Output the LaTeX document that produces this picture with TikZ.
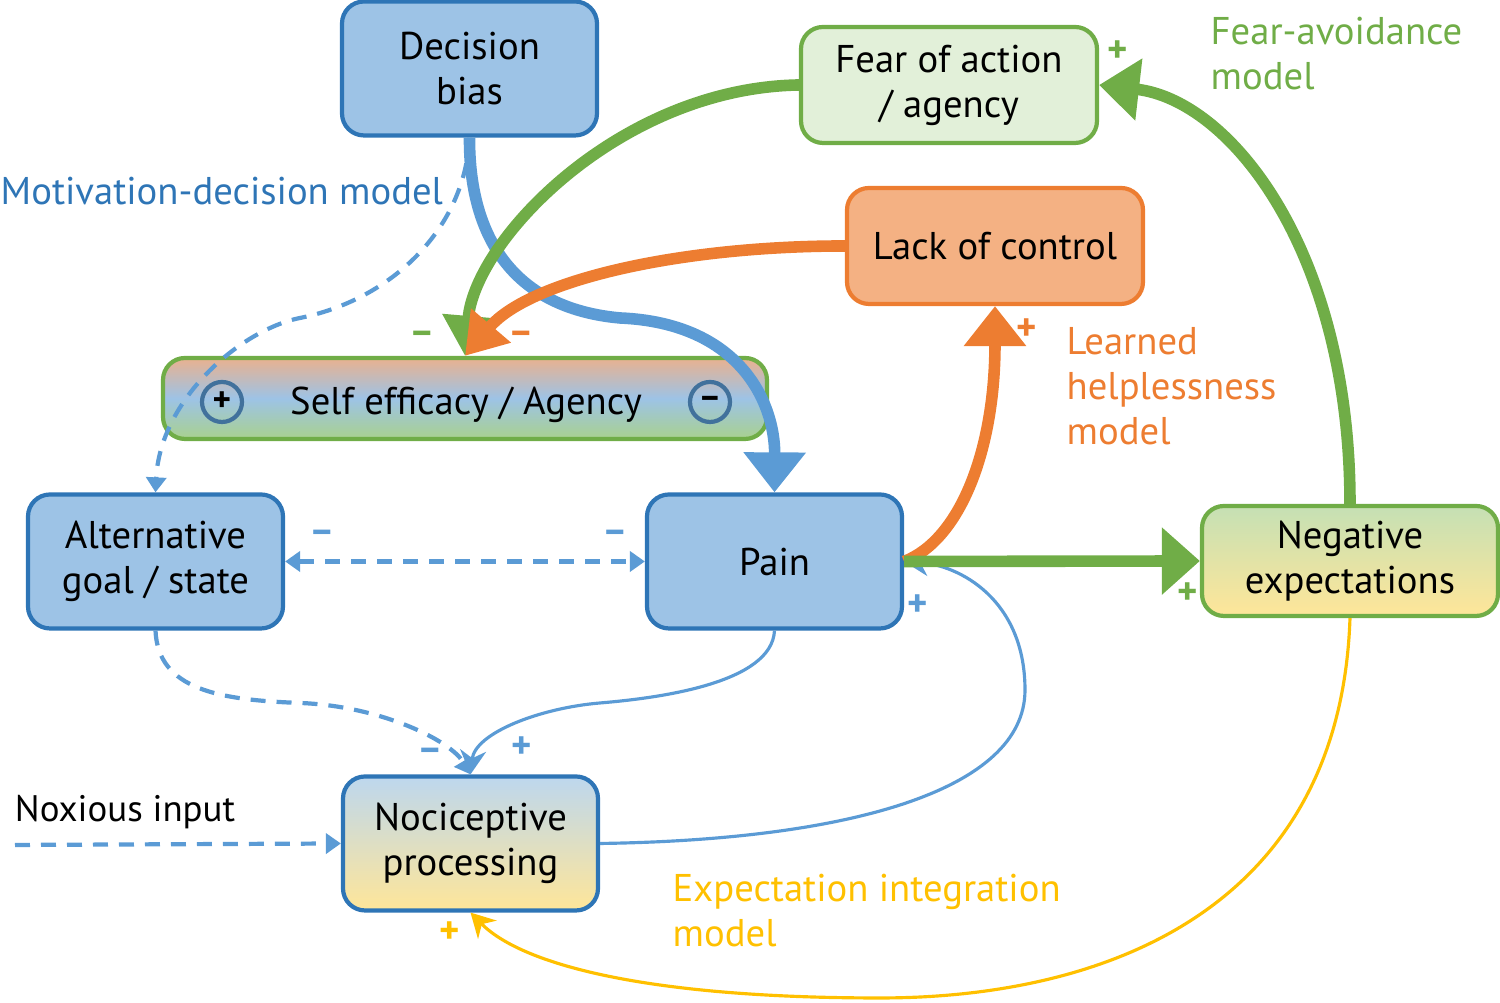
\documentclass[tikz,border=0pt]{standalone}
\usepackage{fontspec}
\setmainfont{PT Sans}
\usepackage{tikz}
\usetikzlibrary{arrows.meta}

\definecolor{paleblue}{HTML}{9DC3E6}
\definecolor{darkblue}{HTML}{2E75B6}
\definecolor{lineblue}{HTML}{5B9BD5}
\definecolor{ringblue}{HTML}{41719C}
\definecolor{lightblue}{HTML}{BDD7EE}
\definecolor{leafgreen}{HTML}{70AD47}
\definecolor{palegreen}{HTML}{E2F0D9}
\definecolor{softgreen}{HTML}{C5E0B4}
\definecolor{effgreen}{HTML}{A9D18E}
\definecolor{carrot}{HTML}{ED7D31}
\definecolor{peach}{HTML}{F4B183}
\definecolor{effpeach}{HTML}{E9B18F}
\definecolor{gold}{HTML}{FFC000}
\definecolor{paleyellow}{HTML}{FFE699}

\tikzset{
  box/.style={rectangle, rounded corners=0.22cm, line width=1.2pt, align=center,
    inner sep=0pt, font=\fontsize{11}{12.8}\selectfont},
  bluebox/.style={box, draw=darkblue, fill=paleblue, minimum width=2.55cm, minimum height=1.34cm},
  widebox/.style={box, minimum width=2.96cm, minimum height=1.16cm},
  sign/.style={font=\bfseries\fontsize{11}{12}\selectfont},
  label/.style={anchor=west, align=left, inner sep=0pt, font=\fontsize{11}{12.8}\selectfont},
  fat/.style={line width=3.3pt, -{Triangle[length=0.4cm,width=0.6cm]}},
  slim/.style={lineblue, line width=0.9pt, -{Stealth[length=0.24cm,width=0.26cm]}},
  dashline/.style={lineblue, line width=1.2pt, dash pattern=on 0.15cm off 0.11cm,
    -{Triangle[length=0.15cm,width=0.2cm]}}
}

\begin{document}
\begin{tikzpicture}
    \useasboundingbox (0,0) rectangle (15,10.03);
    % boxes
    \node[bluebox] (bias) at (4.695,9.345) {Decision\\bias};
    \node[widebox, draw=leafgreen, fill=palegreen] (fear) at (9.49,9.18) {Fear of action\\/ agency};
    \node[widebox, draw=carrot, fill=peach] (control) at (9.95,7.57) {Lack of control};
    \node[box, draw=leafgreen, minimum width=6.04cm, minimum height=0.81cm,
        top color=effpeach, bottom color=effgreen, middle color=paleblue] (eff) at (4.65,6.045) {};
    \node[font=\fontsize{11}{12.8}\selectfont] (efftext) at (4.66,5.98) {Self efficacy / Agency};
    \node[circle, draw=ringblue, line width=1.2pt, minimum size=0.4cm, inner sep=0pt] (plus) at (2.22,6.01) {\textbf{+}};
    \node[circle, draw=ringblue, line width=1.2pt, minimum size=0.4cm, inner sep=0pt] (minus) at (7.10,6.01) {\textbf{--}};
    \node[bluebox] (alt) at (1.555,4.415) {Alternative\\goal / state};
    \node[bluebox] (pain) at (7.745,4.415) {Pain};
    \node[widebox, draw=leafgreen, minimum height=1.10cm, top color=softgreen, bottom color=paleyellow] (negexp) at (13.5,4.42) {Negative\\expectations};
    \node[bluebox, top color=lightblue, bottom color=paleyellow] (noci) at (4.705,1.595) {Nociceptive\\processing};
    \coordinate (nox) at (0.15,1.58);

    % model labels
    \node[label, darkblue] (mdm) at (0,8.12) {Motivation-decision model};
    \node[label, leafgreen] (fam) at (12.1,9.49) {Fear-avoidance\\model};
    \node[label, carrot] (lhm) at (10.66,6.165) {Learned\\helplessness\\model};
    \node[label, gold] (eim) at (6.72,0.92) {Expectation integration\\model};
    \node[font=\fontsize{10.5}{12.8}\selectfont] (noxlabel) at (1.25,1.91) {Noxious input};

    % thin and dashed links
    \draw[dashline] (bias.south) .. controls (4.65,7.73) and (3.9,7.03) .. (3.0,6.85)
        .. controls (2.4,6.73) and (1.6,6.03) .. (alt.north);
    \draw[dashline, {Triangle[length=0.15cm,width=0.2cm]}-{Triangle[length=0.15cm,width=0.2cm]}] (alt.east) -- (pain.west);
    \draw[dashline] (alt.south) .. controls (1.58,3.13) and (2.2,3.03) .. (3.0,3.0)
        .. controls (3.8,2.97) and (4.5,2.63) .. (noci.north);
    \draw[dashline] (nox) -- (noci.west);
    \draw[slim] (pain.south) .. controls (7.72,3.2) and (6.6,3.05) .. (6.0,3.0)
        .. controls (5.4,2.95) and (4.75,2.7) .. (noci.north);
    \draw[slim] (noci.east) .. controls (8.5,1.63) and (10.25,2.13) .. (10.25,3.13)
        .. controls (10.25,4.03) and (9.6,4.38) .. (pain.east);
    \draw[slim, gold] (negexp.south) .. controls (13.4,0.9) and (11.0,0.05) .. (8.8,0.05)
        .. controls (6.4,0.05) and (5.2,0.4) .. (noci.south);

    % thick links
    \draw[fat, lineblue] (bias.south) .. controls (4.69,7.7) and (5.1,6.95) .. (6.2,6.85)
        .. controls (7.4,6.8) and (7.75,6.0) .. (pain.north);
    \draw[fat, leafgreen, -{Triangle[length=0.4cm,width=0.5cm]}] (fear.west) .. controls (6.2,9.15) and (4.75,7.63) .. (eff.north);
    \draw[fat, carrot, -{Triangle[length=0.4cm,width=0.5cm]}] (control.west) .. controls (6.8,7.57) and (5.3,7.23) .. (eff.north);
    \draw[fat, leafgreen] (negexp.north) .. controls (13.5,7.53) and (12.3,9.03) .. (fear.east);
    \draw[fat, carrot] (pain.east) .. controls (9.6,4.63) and (9.95,5.53) .. (control.south);
    \draw[fat, leafgreen, -{Triangle[length=0.38cm,width=0.65cm]}] (pain.east) -- (negexp.west);

    % signs
    \node[sign, leafgreen] (s1) at (11.18,9.51) {+};
    \node[sign, leafgreen] (s2) at (4.22,6.65) {--};
    \node[sign, carrot] (s3) at (5.21,6.65) {--};
    \node[sign, carrot] (s4) at (10.27,6.73) {+};
    \node[sign, leafgreen] (s5) at (11.88,4.09) {+};
    \node[sign, lineblue] (s6) at (9.18,3.97) {+};
    \node[sign, lineblue] (s7) at (3.22,4.66) {--};
    \node[sign, lineblue] (s8) at (6.15,4.66) {--};
    \node[sign, lineblue] (s9) at (4.30,2.48) {--};
    \node[sign, lineblue] (s10) at (5.22,2.55) {+};
    \node[sign, gold] (s11) at (4.50,0.70) {+};
\end{tikzpicture}
\end{document}
